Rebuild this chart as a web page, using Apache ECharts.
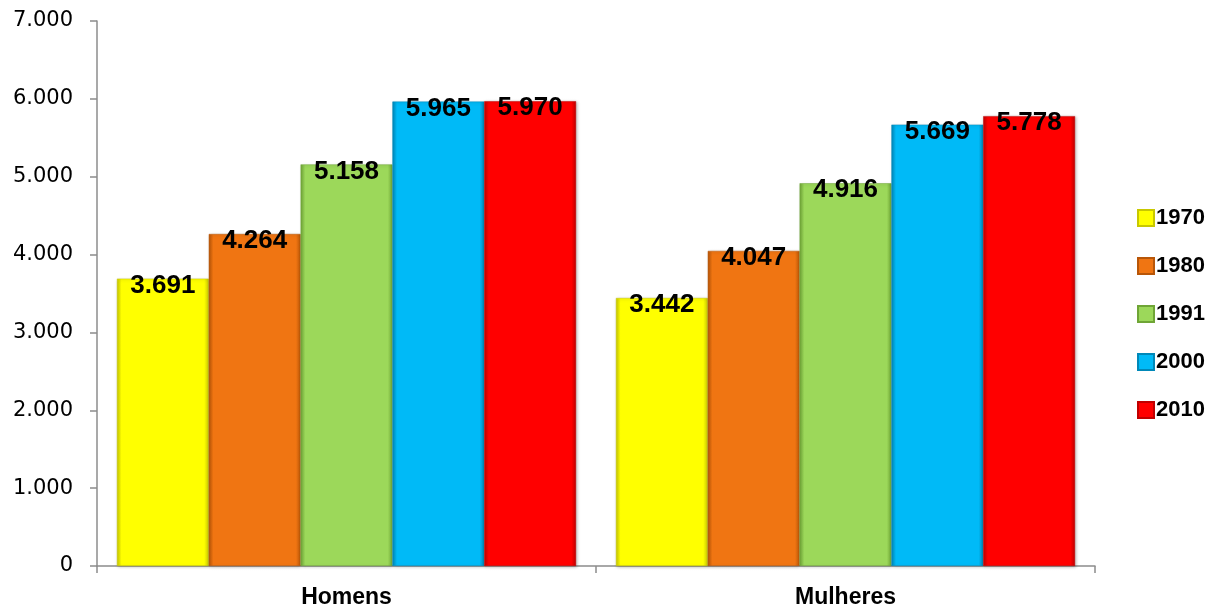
<!DOCTYPE html>
<html>
<head>
<meta charset="utf-8">
<script src="https://cdn.jsdelivr.net/npm/echarts@6/dist/echarts.min.js"></script>
<style>html,body{margin:0;padding:0;background:#fff}#c{width:1213px;height:610px}</style>
</head>
<body>
<div id="c"></div>
<script>
const categories = ['Homens', 'Mulheres'];
const years = ['1970', '1980', '1991', '2000', '2010'];
const v1970 = [3691, 3442];
const v1980 = [4264, 4047];
const v1991 = [5158, 4916];
const v2000 = [5965, 5669];
const v2010 = [5970, 5778];
const yTicks = [0, 1000, 2000, 3000, 4000, 5000, 6000, 7000];

const seriesValues = [v1970, v1980, v1991, v2000, v2010];
const colors = ['#FFFF00', '#F07512', '#9CD85A', '#00BAF7', '#FF0000'];
const borders = ['#C8C800', '#B85608', '#6FA536', '#0088B8', '#C00000'];

function fmt(n) {
  return String(n).replace(/\B(?=(\d{3})+(?!\d))/g, '.');
}

const chart = echarts.init(document.getElementById('c'));
chart.setOption({
  animation: false,
  backgroundColor: '#fff',
  grid: { left: 97, right: 118, top: 21, bottom: 44 },
  legend: {
    orient: 'vertical',
    left: 1137,
    top: 207,
    padding: 0,
    itemWidth: 16,
    itemHeight: 16,
    itemGap: 26,
    icon: 'rect',
    textStyle: { fontFamily: 'Liberation Sans, Arial', fontWeight: 'bold', fontSize: 22, color: '#000', lineHeight: 22, padding: [0, 0, 0, -3] },
    data: years
  },
  xAxis: {
    type: 'category',
    data: categories,
    axisLine: { lineStyle: { color: '#8C8C8C', width: 1.5 } },
    axisTick: { show: true, length: 7, lineStyle: { color: '#8C8C8C', width: 1.5 } },
    axisLabel: { fontFamily: 'Liberation Sans, Arial', fontWeight: 'bold', fontSize: 23, color: '#000', margin: 20 }
  },
  yAxis: {
    type: 'value',
    min: 0,
    max: 7000,
    interval: 1000,
    splitLine: { show: false },
    axisLine: { show: true, lineStyle: { color: '#8C8C8C', width: 1.5 } },
    axisTick: { show: true, length: 7, lineStyle: { color: '#8C8C8C', width: 1.5 } },
    axisLabel: {
      fontFamily: 'DejaVu Sans', fontSize: 21, color: '#000', margin: 24,
      formatter: function (v) { return yTicks.indexOf(v) >= 0 ? fmt(v) : ''; }
    }
  },
  series: years.map(function (y, i) {
    return {
      name: y,
      type: 'bar',
      data: seriesValues[i],
      barGap: '0%',
      barCategoryGap: '8%',
      itemStyle: {
        color: {
          type: 'linear', x: 0, y: 0, x2: 1, y2: 0,
          colorStops: [
            { offset: 0, color: borders[i] },
            { offset: 0.05, color: colors[i] },
            { offset: 0.95, color: colors[i] },
            { offset: 1, color: borders[i] }
          ]
        },
        borderColor: borders[i],
        borderWidth: 0.5,
        shadowColor: 'rgba(0,0,0,0.25)',
        shadowBlur: 3,
        shadowOffsetX: 1,
        shadowOffsetY: 1
      },
      label: {
        show: true,
        position: 'insideTop',
        distance: -6,
        fontFamily: 'Liberation Sans, Arial',
        fontWeight: 'bold',
        fontSize: 26,
        color: '#000',
        formatter: function (p) { return fmt(p.value); }
      }
    };
  }),
  color: colors
});
</script>
</body>
</html>
